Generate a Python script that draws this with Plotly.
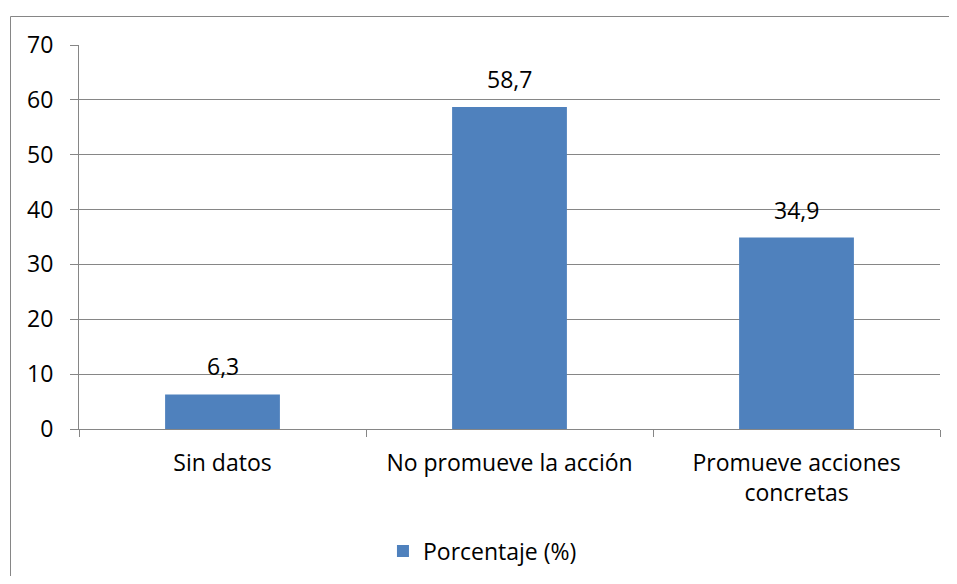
import plotly.graph_objects as go

categories = ["Sin datos", "No promueve la acción", "Promueve acciones<br>concretas"]
values = [6.3, 58.7, 34.9]
value_labels = ["6,3", "58,7", "34,9"]
series_name = "Porcentaje (%)"

OFF = 8  # default page body margin
W, H = 941, 568
L, T = 79 - OFF, 45 - OFF
R = W - L - (940 - 79)
B = H - (429 - OFF)
pw, ph = W - L - R, H - T - B

def px_x(x):
    return (x - OFF - L) / pw

def px_y(y):
    return (H - B - (y - OFF)) / ph

FONT = "Open Sans"
FS = 23
GRID = "#868686"

fig = go.Figure()
fig.add_trace(go.Bar(
    x=categories, y=values, name=series_name,
    marker=dict(color="#4F81BD", line=dict(width=0)),
    showlegend=True,
))

annotations = [
    dict(x=c, y=v, xref="x", yref="y", text=t, showarrow=False,
         yanchor="bottom", yshift=10, font=dict(family=FONT, size=FS, color="black"))
    for c, v, t in zip(categories, values, value_labels)
]

border = dict(color=GRID, width=1)
fig.update_layout(
    width=W, height=H,
    margin=dict(l=L, r=R, t=T, b=B, autoexpand=False),
    paper_bgcolor="white", plot_bgcolor="white",
    separators=",.",
    bargap=0.6,
    font=dict(family=FONT, size=FS, color="black"),
    showlegend=True,
    legend=dict(orientation="h", x=0.4686, xanchor="center", y=px_y(551), yanchor="middle",
                font=dict(family=FONT, size=FS, color="black"), itemwidth=30),
    xaxis=dict(showgrid=False, showline=True, linecolor=GRID, linewidth=1,
               ticks="outside", tickson="boundaries", ticklen=7, tickcolor=GRID,
               ticklabelstandoff=13,
               tickfont=dict(family=FONT, size=FS, color="black")),
    yaxis=dict(range=[0, 70], dtick=10, showgrid=True, gridcolor=GRID, gridwidth=1,
               showline=True, linecolor=GRID, linewidth=1,
               ticks="outside", ticklen=8, tickcolor=GRID, ticklabelstandoff=12,
               tickfont=dict(family=FONT, size=FS, color="black"), zeroline=False),
    annotations=annotations,
    shapes=[
        dict(type="line", xref="paper", yref="paper",
             x0=px_x(10.5), x1=px_x(960), y0=px_y(16.5), y1=px_y(16.5), line=border, layer="below"),
        dict(type="line", xref="paper", yref="paper",
             x0=px_x(10.5), x1=px_x(10.5), y0=px_y(16.5), y1=px_y(600), line=border, layer="below"),
    ],
)

fig.write_html("out.html", config={"displayModeBar": False})
